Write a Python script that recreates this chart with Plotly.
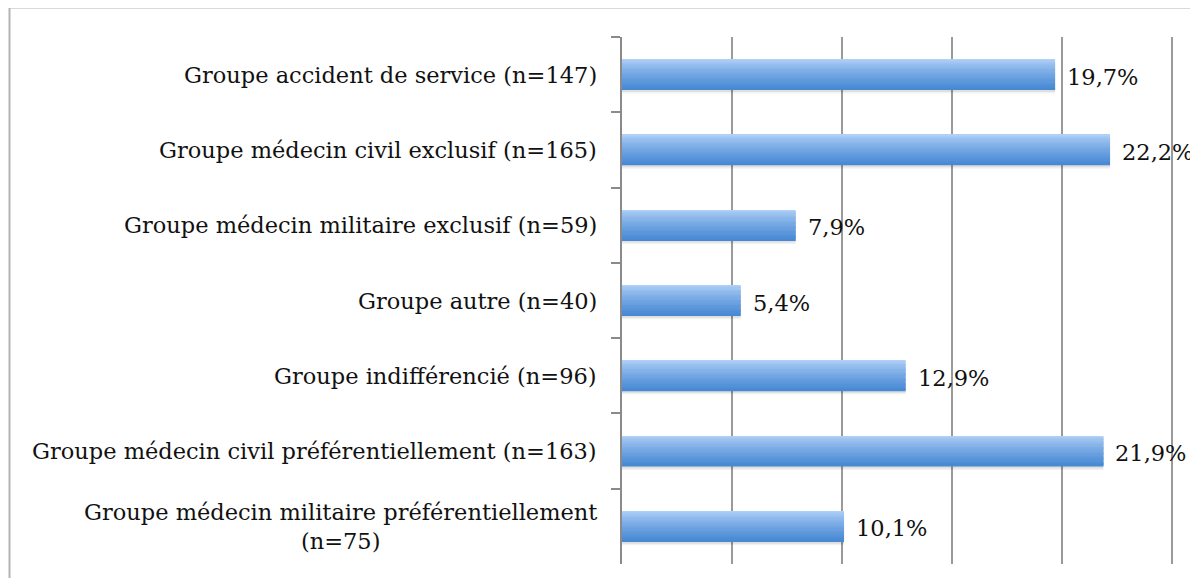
import plotly.graph_objects as go

# data
categories = [
    "Groupe accident de service (n=147)",
    "Groupe médecin civil exclusif (n=165)",
    "Groupe médecin militaire exclusif (n=59)",
    "Groupe autre (n=40)",
    "Groupe indifférencié (n=96)",
    "Groupe médecin civil préférentiellement (n=163)",
    "Groupe médecin militaire préférentiellement<br>(n=75)",
]
percent = [19.7, 22.2, 7.9, 5.4, 12.9, 21.9, 10.1]
value_labels = ["19,7%", "22,2%", "7,9%", "5,4%", "12,9%", "21,9%", "10,1%"]

FONT = "DejaVu Serif"
FSIZE = 22.5
BAR_W = 0.4
N_SLICES = 24
top_rgb = (176, 208, 247)
bot_rgb = (72, 137, 212)

fig = go.Figure()

# soft shadow under each bar
for k, a in enumerate([0.05, 0.08]):
    fig.add_trace(go.Bar(
        y=categories, x=percent, orientation="h",
        width=BAR_W, offset=-BAR_W / 2 + 0.05 - k * 0.02,
        marker=dict(color="rgba(0,0,0,%.2f)" % a, line=dict(width=0)),
        hoverinfo="skip", showlegend=False,
    ))

# fake vertical gradient: thin overlaid slices, light on top, darker below
for i in range(N_SLICES):
    t = (i / (N_SLICES - 1)) ** 0.8
    c = tuple(round(a + (b - a) * t) for a, b in zip(top_rgb, bot_rgb))
    fig.add_trace(go.Bar(
        y=categories, x=percent, orientation="h",
        width=BAR_W / N_SLICES * 1.3,
        offset=-BAR_W / 2 + i * BAR_W / N_SLICES,
        marker=dict(color="rgb(%d,%d,%d)" % c, line=dict(width=0)),
        hoverinfo="skip", showlegend=False,
    ))

# value labels
for cat, v, lab in zip(categories, percent, value_labels):
    fig.add_annotation(x=v, y=cat, xref="x", yref="y", text=lab,
                       showarrow=False, xanchor="left", xshift=10, yshift=-2,
                       font=dict(family=FONT, size=FSIZE, color="#111"))

# category labels (centered lines, right edge next to the axis)
for cat in categories:
    fig.add_annotation(x=0, y=cat, xref="paper", yref="y", text=cat,
                       showarrow=False, xanchor="right", xshift=-23, align="center",
                       font=dict(family=FONT, size=FSIZE, color="#111"))

# outer frame
fig.add_shape(type="rect", xref="paper", yref="paper",
              x0=(9.5 - 622) / 554, x1=2.0, y0=-1.0, y1=(556 - 8) / 519,
              line=dict(color="#b4b4b4", width=2), fillcolor="rgba(0,0,0,0)", layer="below")

# page body adds an 8px margin, so the figure is shrunk/shifted to compensate
fig.update_layout(
    width=1190, height=570,
    margin=dict(l=614, r=22, t=29, b=14),
    barmode="overlay",
    paper_bgcolor="white", plot_bgcolor="white",
    showlegend=False,
    hovermode=False,
)
fig.update_xaxes(range=[0, 25.2], dtick=5, showgrid=True, gridcolor="#9a9a9a", gridwidth=1.5,
                 showticklabels=False, zeroline=False, showline=False, ticks="")
fig.update_yaxes(autorange="reversed", showticklabels=False, showline=True, linecolor="#8a8a8a",
                 linewidth=1.5, ticks="outside", tickson="boundaries", ticklen=9,
                 tickcolor="#8a8a8a", tickwidth=1.5, showgrid=False)

fig.write_html("out.html")
